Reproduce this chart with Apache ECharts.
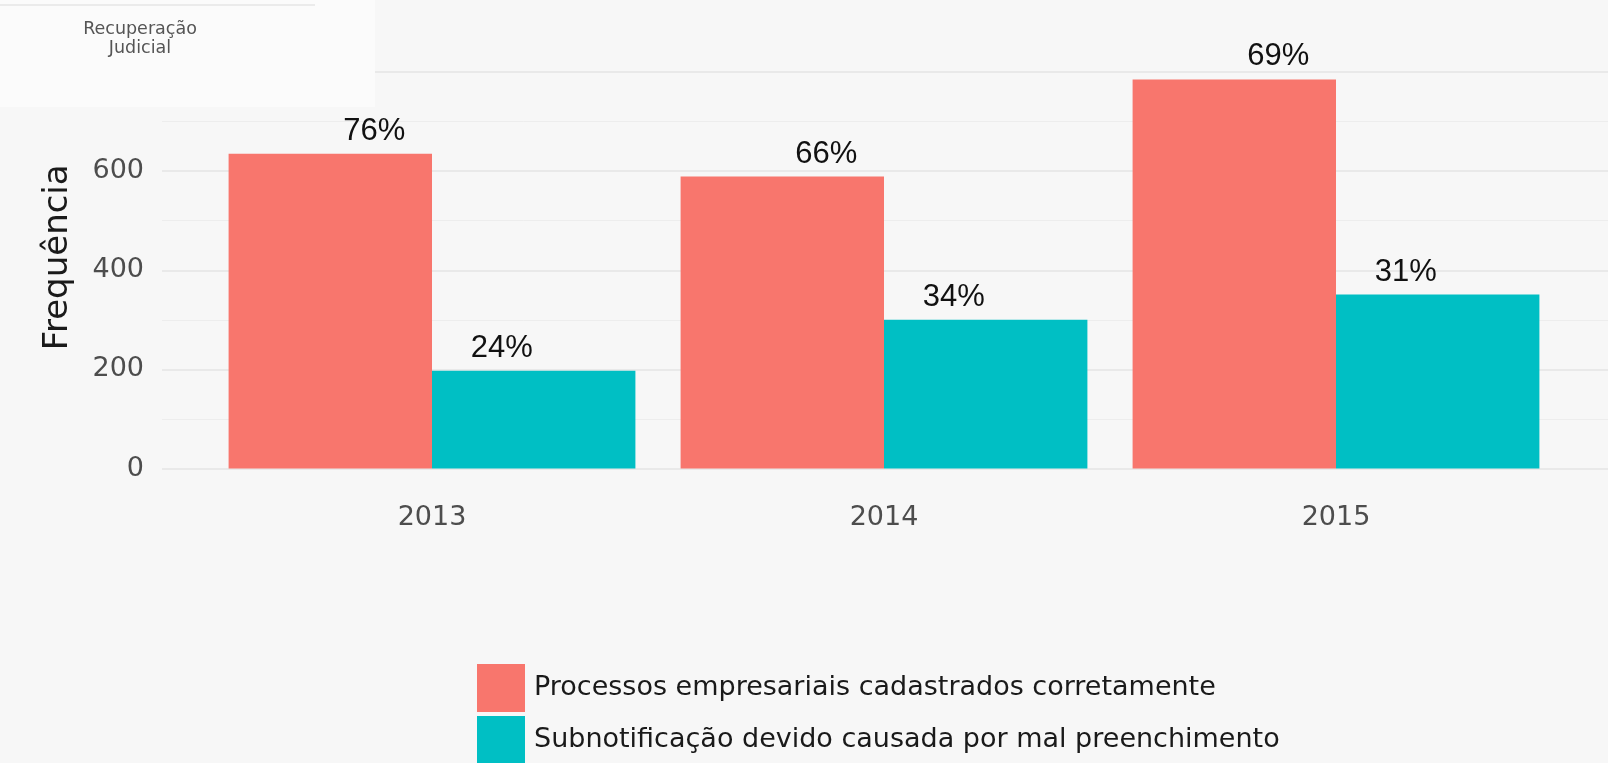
<!DOCTYPE html>
<html>
<head>
<meta charset="utf-8">
<script src="https://cdn.jsdelivr.net/npm/echarts@6/dist/echarts.min.js"></script>
<style>
  html, body { margin: 0; padding: 0; background: #f7f7f7; }
  #chart { width: 1608px; height: 763px; }
</style>
</head>
<body>
<div id="chart"></div>
<script>
// dados
const anos = ['2013', '2014', '2015'];
const corretos = [635, 589, 785];
const subnotificados = [197, 300, 351];
const pctCorretos = ['76%', '66%', '69%'];
const pctSubnot = ['24%', '34%', '31%'];
const yTicks = [0, 200, 400, 600, 800];

const nomeCorretos = 'Processos empresariais cadastrados corretamente';
const nomeSubnot = 'Subnotificação devido causada por mal preenchimento';

const chart = echarts.init(document.getElementById('chart'));

const fonte = 'DejaVu Sans';
const gridTop = 72, gridBottom = 294.5;

const option = {
  backgroundColor: '#f7f7f7',
  animation: false,
  grid: [
    // grade de fundo (linhas de grade ocupam todo o painel)
    { left: 162, right: 0, top: gridTop, bottom: gridBottom, containLabel: false },
    // barras
    { left: 206, right: 46, top: gridTop, bottom: gridBottom, containLabel: false }
  ],
  xAxis: [
    { type: 'category', gridIndex: 0, data: anos, show: false },
    {
      type: 'category',
      gridIndex: 1,
      data: anos,
      axisLine: { show: false },
      axisTick: { show: false },
      axisLabel: { margin: 36, fontFamily: fonte, fontSize: 27, color: '#4d4d4d' }
    }
  ],
  yAxis: [
    {
      type: 'value',
      gridIndex: 0,
      min: yTicks[0],
      max: yTicks[yTicks.length - 1],
      interval: 200,
      name: 'Frequência',
      nameLocation: 'middle',
      nameGap: 87,
      nameTextStyle: { fontFamily: fonte, fontSize: 34, color: '#1a1a1a', padding: [0, 0, 0, 26] },
      axisLine: { show: false },
      axisTick: { show: false },
      axisLabel: { margin: 18, fontFamily: fonte, fontSize: 27, color: '#4d4d4d' },
      splitLine: { show: true, lineStyle: { color: '#e9e9e9', width: 2 } },
      minorTick: { show: false, splitNumber: 2 },
      minorSplitLine: { show: true, lineStyle: { color: '#ededed', width: 1 } }
    },
    {
      type: 'value',
      gridIndex: 1,
      min: yTicks[0],
      max: yTicks[yTicks.length - 1],
      show: false
    }
  ],
  legend: {
    orient: 'vertical',
    left: 477,
    top: 664,
    height: 140,
    padding: 0,
    itemWidth: 48,
    itemHeight: 48,
    itemGap: 4,
    icon: 'rect',
    selectedMode: false,
    textStyle: { fontFamily: fonte, fontSize: 27, color: '#1a1a1a', padding: [0, 0, 0, 4] },
    data: [nomeCorretos, nomeSubnot]
  },
  series: [
    {
      name: nomeCorretos,
      type: 'bar',
      xAxisIndex: 1,
      yAxisIndex: 1,
      data: corretos,
      barGap: '0%',
      barCategoryGap: '10%',
      itemStyle: { color: '#F8766D' },
      label: {
        show: true,
        position: 'top',
        distance: 7,
        offset: [44, 0],
        fontFamily: 'Liberation Sans',
        fontSize: 31,
        color: '#111',
        formatter: p => pctCorretos[p.dataIndex]
      }
    },
    {
      name: nomeSubnot,
      type: 'bar',
      xAxisIndex: 1,
      yAxisIndex: 1,
      data: subnotificados,
      barGap: '0%',
      barCategoryGap: '10%',
      itemStyle: { color: '#00BFC4' },
      label: {
        show: true,
        position: 'top',
        distance: 7,
        offset: [-32, 0],
        fontFamily: 'Liberation Sans',
        fontSize: 31,
        color: '#111',
        formatter: p => pctSubnot[p.dataIndex]
      }
    }
  ],
  graphic: [
    // faixa "Recuperação Judicial" sobreposta no canto
    {
      type: 'rect',
      z: 100,
      shape: { x: 0, y: 0, width: 375, height: 107 },
      style: { fill: '#fbfbfb' }
    },
    {
      type: 'line',
      z: 101,
      shape: { x1: 0, y1: 5, x2: 315, y2: 5 },
      style: { stroke: '#ebebeb', lineWidth: 2 }
    },
    {
      type: 'text',
      z: 101,
      x: 140,
      y: 20,
      style: {
        text: 'Recuperação\nJudicial',
        fontFamily: fonte,
        fontSize: 17.5,
        lineHeight: 19,
        fill: '#555555',
        align: 'center',
        verticalAlign: 'top'
      }
    }
  ]
};

chart.setOption(option);
</script>
</body>
</html>
